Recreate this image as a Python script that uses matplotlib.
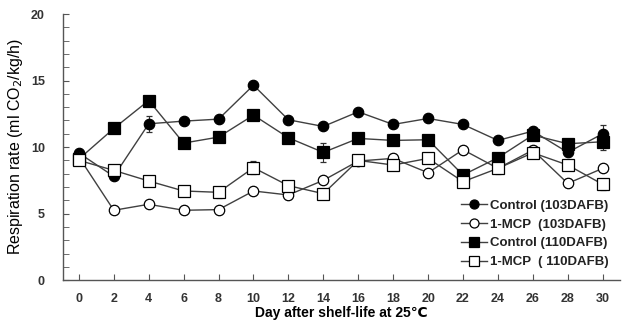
import matplotlib
matplotlib.use("Agg")
import matplotlib.pyplot as plt
from matplotlib.lines import Line2D
import numpy as np

plt.rcParams['font.family'] = ['Liberation Sans', 'DejaVu Sans', 'Noto Sans CJK KR']

days = [0, 2, 4, 6, 8, 10, 12, 14, 16, 18, 20, 22, 24, 26, 28, 30]
control_103 = [9.55, 7.8, 11.75, 11.95, 12.1, 14.65, 12.05, 11.55, 12.65, 11.7, 12.15, 11.7, 10.5, 11.2, 9.6, 11.0]
control_103_err = [0.2, 0.2, 0.6, 0.2, 0.2, 0.2, 0.2, 0.2, 0.2, 0.2, 0.2, 0.2, 0.2, 0.3, 0.3, 0.65]
mcp_103 = [9.25, 5.25, 5.7, 5.25, 5.3, 6.7, 6.4, 7.5, 8.95, 9.15, 8.07, 9.8, 8.4, 9.77, 7.27, 8.4]
mcp_103_err = [0.2, 0.2, 0.2, 0.3, 0.2, 0.3, 0.3, 0.2, 0.2, 0.3, 0.3, 0.3, 0.3, 0.3, 0.3, 0.2]
control_110 = [9.1, 11.4, 13.5, 10.3, 10.75, 12.4, 10.7, 9.6, 10.65, 10.5, 10.55, 7.9, 9.2, 10.9, 10.25, 10.4]
control_110_err = [0.3, 0.2, 0.2, 0.2, 0.2, 0.2, 0.2, 0.7, 0.2, 0.2, 0.2, 0.2, 0.2, 0.3, 0.3, 0.6]
mcp_110 = [9.0, 8.25, 7.45, 6.7, 6.6, 8.45, 7.1, 6.5, 9.0, 8.65, 9.15, 7.4, 8.4, 9.57, 8.65, 7.2]
mcp_110_err = [0.3, 0.2, 0.3, 0.4, 0.4, 0.5, 0.3, 0.3, 0.2, 0.4, 0.3, 0.2, 0.4, 0.2, 0.2, 0.4]
labels = ['Control (103DAFB)', '1-MCP  (103DAFB)', 'Control (110DAFB)', '1-MCP  ( 110DAFB)']

fig = plt.figure(figsize=(6.22, 3.22), dpi=100)
ax = fig.add_axes([0.101, 0.130, 0.896, 0.8265])

line_col = '#404040'
series = [
    (control_103, control_103_err, 'o', 'black', 7.5),
    (mcp_103, mcp_103_err, 'o', 'white', 7.5),
    (control_110, control_110_err, 's', 'black', 8.5),
    (mcp_110, mcp_110_err, 's', 'white', 8),
]
handles = []
for (vals, err, m, fc, ms), lab in zip(series, labels):
    ax.errorbar(days, vals, yerr=err, color=line_col, lw=1.0, marker=m,
                markerfacecolor=fc, markeredgecolor='black', markeredgewidth=0.9,
                markersize=ms, ecolor='#303030', elinewidth=0.8, capsize=2.5)
    handles.append(Line2D([], [], color=line_col, lw=1.0, marker=m,
                          markerfacecolor=fc, markeredgecolor='black',
                          markeredgewidth=0.9, markersize=ms - 1, label=lab))

ax.set_xlim(-0.92, 31.0)
ax.set_ylim(0, 20)
ax.set_xticks(days)
ax.set_yticks([0, 5, 10, 15, 20])
ax.set_yticks(np.arange(0, 21, 1), minor=True)
ax.spines['top'].set_visible(False)
ax.spines['right'].set_visible(False)
for s in ['left', 'bottom']:
    ax.spines[s].set_color('#555555')
    ax.spines[s].set_linewidth(1.0)
ax.tick_params(axis='both', which='both', direction='in', color='#555555')
ax.tick_params(axis='y', which='major', length=4, pad=13)
ax.tick_params(axis='y', which='minor', length=4)
ax.tick_params(axis='x', which='major', length=4, pad=9)
for t in ax.get_xticklabels() + ax.get_yticklabels():
    t.set_fontsize(9)
    t.set_fontweight('bold')
    t.set_color('#333333')

ax.set_xlabel('Day after shelf-life at 25℃', fontsize=10, fontweight='bold', labelpad=1)
ax.set_ylabel('Respiration rate (ml CO$_2$/kg/h)', fontsize=11.5, labelpad=4)

leg = ax.legend(handles=handles, loc='lower right', bbox_to_anchor=(1.0, 0.0),
                frameon=False, fontsize=9.5, handlelength=2.0, handletextpad=0.2,
                labelspacing=0.5)
for t in leg.get_texts():
    t.set_fontweight('bold')
    t.set_color('#222222')

fig.savefig('out.png', dpi=100)
